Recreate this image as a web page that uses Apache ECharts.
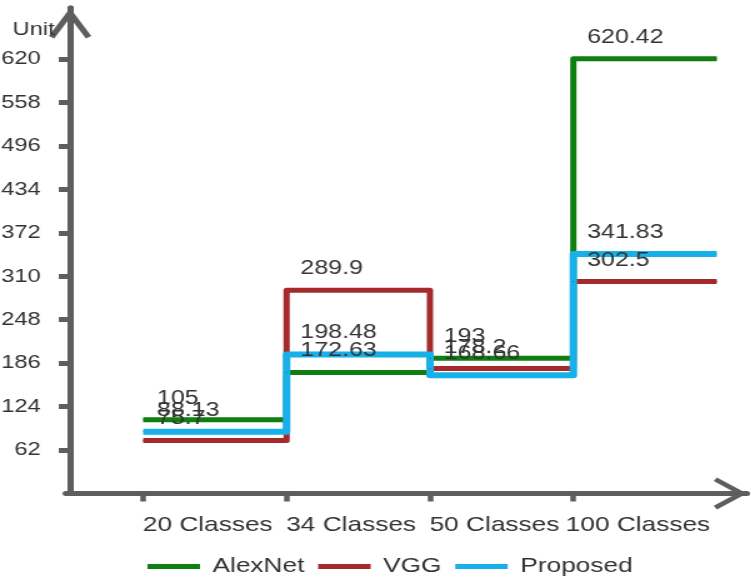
<!DOCTYPE html>
<html>
<head>
<meta charset="utf-8">
<script src="https://cdn.jsdelivr.net/npm/echarts@6/dist/echarts.min.js"></script>
<style>
  html, body { margin: 0; padding: 0; background: #fff; overflow: hidden; }
  /* the chart is laid out narrower and widened horizontally */
  #chart { width: 601px; height: 578px; transform: scaleX(1.25); transform-origin: 0 0; }
</style>
</head>
<body>
<div id="chart"></div>
<script>
// Categories and results per model
const categories = ['20 Classes', '34 Classes', '50 Classes', '100 Classes'];
const alexNet = [105, 172.63, 193, 620.42];
const vgg = [75.7, 289.9, 178.2, 302.5];
const proposed = [88.13, 198.48, 168.66, 341.83];
const yTickValues = [62, 124, 186, 248, 310, 372, 434, 496, 558, 620];
const seriesNames = ['AlexNet', 'VGG', 'Proposed'];

const FONT = "'Liberation Sans', Arial, sans-serif";
const AXIS_COLOR = '#5e5e5e';
const TEXT_COLOR = '#333333';
const COLORS = ['#0e7f10', '#a42a2c', '#18b0e8'];
const Y_MAX = 693;

// Plot area (before the horizontal widening)
const CHART_W = 601;
const GRID_LEFT = 52.6;
const GRID_RIGHT = 3.5;
const X_MIN = -0.03;

// The first band starts a little to the right of the vertical axis.
const BAND_START = 0.51;
const X_MAX = 4 + BAND_START + 0.21;
const bandEdges = categories.map((c, i) => i + BAND_START);

// Distance from the right edge of the plot to the vertical axis (x = 0)
const gridWidth = CHART_W - GRID_LEFT - GRID_RIGHT;
const zeroFromRight = gridWidth * (X_MAX - 0) / (X_MAX - X_MIN);

// Each value occupies its own band; one closing point ends the last band.
function stepData(values) {
  const d = values.map((v, i) => ({ value: [i + BAND_START, v] }));
  d.push({ value: [values.length + BAND_START, values[values.length - 1]], label: { show: false } });
  return d;
}

// Open chevron arrow heads for the axis ends
const yArrow = 'path://M17,0 L34,28 L29.7,30.6 L17,9.7 L4.3,30.6 L0,28 Z';
const xArrow = 'path://M16,0 L32,24 L28.3,26.5 L16,8.1 L3.7,26.5 L0,24 Z';

function lineSeries(name, values, color, width) {
  return {
    name: name,
    type: 'line',
    step: 'end',
    data: stepData(values),
    symbol: 'circle',
    symbolSize: 1,
    itemStyle: { color: color },
    lineStyle: { color: color, width: width, join: 'round' },
    label: {
      show: true,
      position: 'top',
      align: 'left',
      distance: 11,
      offset: [11, 0],
      fontFamily: FONT,
      fontSize: 20,
      color: TEXT_COLOR,
      formatter: p => String(p.value[1])
    },
    emphasis: { disabled: true }
  };
}

const chart = echarts.init(document.getElementById('chart'), null, { renderer: 'canvas' });
chart.setOption({
  animation: false,
  backgroundColor: '#ffffff',
  textStyle: { fontFamily: FONT },
  title: {
    text: 'Unit',
    left: 10,
    top: 20,
    padding: 0,
    textStyle: { fontFamily: FONT, fontSize: 19, fontWeight: 'normal', color: TEXT_COLOR }
  },
  legend: {
    data: seriesNames.map((n, i) => ({ name: n, itemStyle: { color: COLORS[i] } })),
    left: 118,
    top: 556,
    icon: 'rect',
    itemWidth: 42,
    itemHeight: 5,
    itemGap: 11,
    padding: 0,
    textStyle: { fontFamily: FONT, fontSize: 21, color: TEXT_COLOR, padding: [0, 0, 0, 5] }
  },
  grid: {
    left: GRID_LEFT,
    right: GRID_RIGHT,
    top: 8,
    bottom: 84.6,
    outerBoundsMode: 'none'
  },
  xAxis: {
    type: 'value',
    // the horizontal axis starts just left of the vertical one, which sits at x = 0
    min: X_MIN,
    max: X_MAX,
    splitLine: { show: false },
    axisLine: {
      show: true,
      symbol: ['none', xArrow],
      symbolSize: [32, 26.5],
      symbolOffset: [0, -13.25],
      lineStyle: { color: AXIS_COLOR, width: 5 }
    },
    axisTick: {
      show: true,
      customValues: bandEdges,
      length: 8,
      lineStyle: { color: AXIS_COLOR, width: 4.5 }
    },
    axisLabel: {
      // category names sit inside their bands
      customValues: bandEdges.map(v => v + 0.45),
      formatter: v => categories[Math.floor(v - BAND_START)],
      margin: 21,
      fontFamily: FONT,
      fontSize: 21,
      color: TEXT_COLOR
    }
  },
  yAxis: [{
    type: 'value',
    min: 0,
    max: Y_MAX,
    splitLine: { show: false },
    axisLine: {
      show: true,
      onZero: true,
      symbol: ['none', yArrow],
      symbolSize: [34, 30.6],
      symbolOffset: [0, -15.3],
      lineStyle: { color: AXIS_COLOR, width: 5 }
    },
    axisTick: {
      show: true,
      customValues: yTickValues,
      length: 9,
      lineStyle: { color: AXIS_COLOR, width: 5 }
    },
    axisLabel: {
      customValues: yTickValues,
      margin: 20,
      fontFamily: FONT,
      fontSize: 19,
      color: TEXT_COLOR
    }
  }, {
    // tick marks on the outer side of the vertical axis line
    type: 'value',
    position: 'right',
    offset: -zeroFromRight,
    min: 0,
    max: Y_MAX,
    splitLine: { show: false },
    axisLine: { show: true, onZero: false, lineStyle: { color: AXIS_COLOR, width: 5 } },
    axisLabel: { show: false },
    axisTick: {
      show: true,
      inside: true,
      customValues: yTickValues,
      length: 9,
      lineStyle: { color: AXIS_COLOR, width: 5 }
    }
  }],
  series: [
    lineSeries(seriesNames[0], alexNet, COLORS[0], 5),
    lineSeries(seriesNames[1], vgg, COLORS[1], 5),
    lineSeries(seriesNames[2], proposed, COLORS[2], 6)
  ]
});
</script>
</body>
</html>
